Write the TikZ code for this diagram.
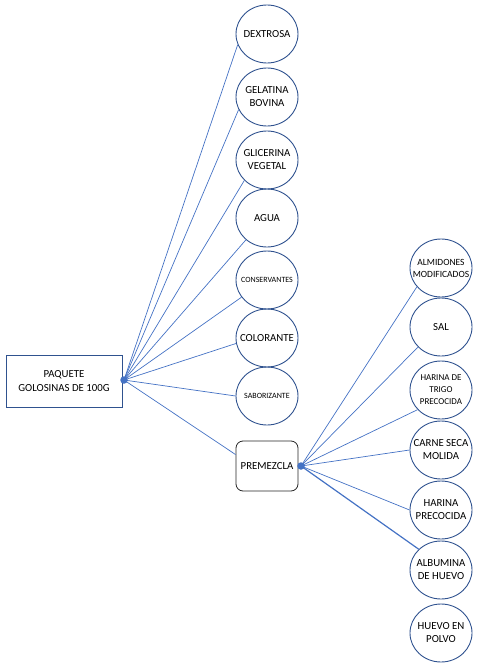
\documentclass[tikz,border=0pt]{standalone}
\usepackage{fontspec}
\setmainfont{Carlito}
\usetikzlibrary{shapes.geometric}
\definecolor{lineblue}{HTML}{4472C4}
\definecolor{edgeblue}{HTML}{2F528F}
\begin{document}
\begin{tikzpicture}[x=1pt,y=-1pt,
  item/.style={ellipse,draw=edgeblue,line width=0.9pt,minimum width=62pt,minimum height=58pt,inner sep=-30pt,align=center,font=\fontsize{10.8}{13}\selectfont},
  conn/.style={draw=lineblue,line width=0.7pt},
  hub/.style={circle,fill=lineblue,inner sep=0pt,minimum size=7.5pt}]
\useasboundingbox (0,0) rectangle (485,669);
\node[draw=edgeblue,line width=0.9pt,minimum width=116pt,minimum height=52pt,align=center,inner sep=0pt,font=\fontsize{10.8}{14}\selectfont] (paq) at (64,381) {PAQUETE\\GOLOSINAS DE 100G};
\node[draw=black!85,line width=0.8pt,rounded corners=7pt,minimum width=62pt,minimum height=50pt,inner sep=0pt,font=\fontsize{10.8}{13}\selectfont] (pre) at (267,466) {PREMEZCLA};
\node[hub] (h1) at (124,380) {};
\node[hub] (h2) at (301,466) {};
\node[item] (dex) at (267,34) {DEXTROSA};
\node[item] (gel) at (267,97) {GELATINA\\BOVINA};
\node[item] (gli) at (267,160) {GLICERINA\\VEGETAL};
\node[item] (agu) at (267,218) {AGUA};
\node[item,font=\fontsize{8}{9}\selectfont] (con) at (267,280) {CONSERVANTES};
\node[item] (col) at (267,338) {COLORANTE};
\node[item,font=\fontsize{8}{10}\selectfont] (sab) at (267,396) {SABORIZANTE};
\node[item,font=\fontsize{9.5}{12}\selectfont] (alm) at (441,268) {ALMIDONES\\MODIFICADOS};
\node[item] (sal) at (441,327) {SAL};
\node[item,font=\fontsize{9}{12}\selectfont] (har) at (441,390) {HARINA DE\\TRIGO\\PRECOCIDA};
\node[item] (car) at (441,450) {CARNE SECA\\MOLIDA};
\node[item] (hpr) at (441,510) {HARINA\\PRECOCIDA};
\node[item] (alb) at (441,570) {ALBUMINA\\DE HUEVO};
\node[item] (hue) at (441,633) {HUEVO EN\\POLVO};
\draw[conn] (h1.center) -- (dex.200);
\draw[conn] (h1.center) -- (gel.204);
\draw[conn] (h1.center) -- (gli.222);
\draw[conn] (h1.center) -- (agu.226);
\draw[conn] (h1.center) -- (con.214);
\draw[conn] (h1.center) -- (col.190);
\draw[conn] (h1.center) -- (sab.180);
\draw[conn] (h1.center) -- (pre.160);
\draw[conn] (h2.center) -- (alm.218);
\draw[conn] (h2.center) -- (sal.221);
\draw[conn] (h2.center) -- (har.220);
\draw[conn] (h2.center) -- (car.180);
\draw[conn] (h2.center) -- (hpr.180);
\draw[conn,line width=1.2pt] (h2.center) -- (alb.137);
\end{tikzpicture}
\end{document}
